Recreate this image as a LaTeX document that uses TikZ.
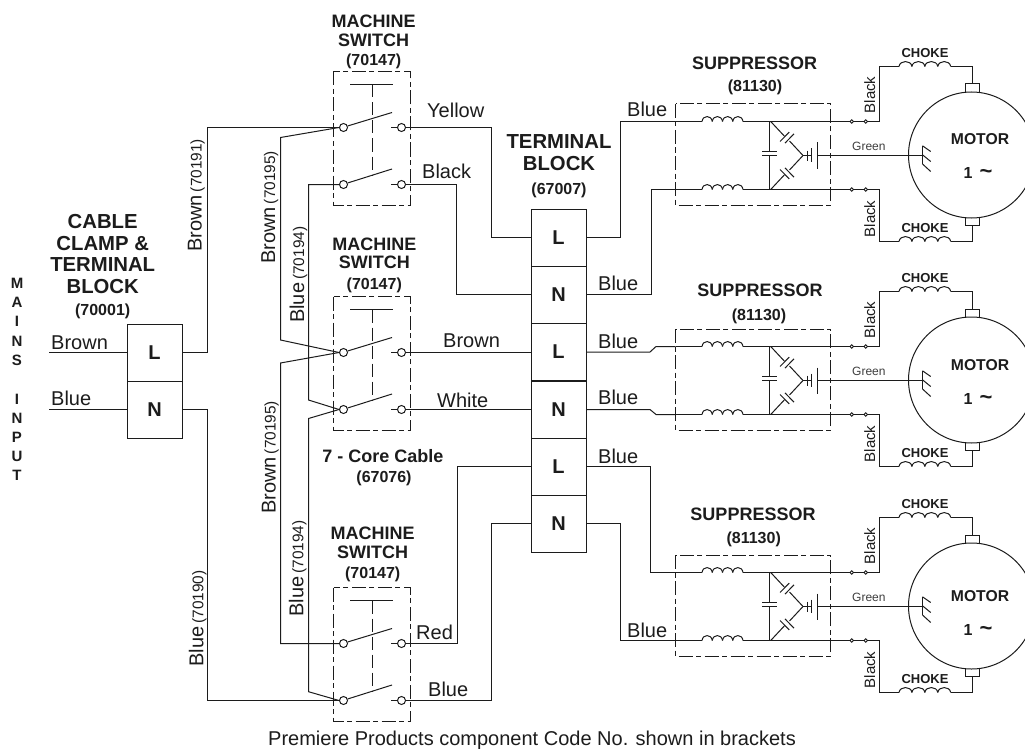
\documentclass[tikz,border=0pt]{standalone}
\usepackage{fontspec}
\setmainfont{Liberation Sans}
\usetikzlibrary{calc}
\newcommand{\fsz}[1]{\fontsize{#1}{#1}\selectfont}
\definecolor{ink}{HTML}{1C1C1C}
\tikzset{
  wire/.style={draw=ink,line width=1pt,line join=miter},
  dashbox/.style={draw=ink,line width=1pt,dash pattern=on 14pt off 3.5pt on 5pt off 3.5pt},
  dashv/.style={draw=ink,line width=1pt,dash pattern=on 13pt off 5pt},
  lab/.style={inner sep=0pt,anchor=base west,text=ink,font=\fsz{20}},
  vlab/.style={lab,rotate=90},
  ttl/.style={inner sep=0pt,anchor=base,text=ink,font=\fsz{18}\bfseries},
  ttlb/.style={inner sep=0pt,anchor=base,text=ink,font=\fsz{20.3}\bfseries},
  code/.style={inner sep=0pt,anchor=base,text=ink,font=\fsz{16}\bfseries},
  mains/.style={inner sep=0pt,anchor=base,text=ink,font=\fsz{15}\bfseries},
  cell/.style={draw=ink,line width=0.9pt,minimum width=55pt,minimum height=57pt,inner sep=0pt,font=\fsz{20}\bfseries,text=ink},
  contact/.style={circle,draw=ink,line width=1pt,fill=white,minimum size=8pt,inner sep=0pt},
  joint/.style={circle,draw=ink,line width=0.9pt,fill=white,minimum size=3.4pt,inner sep=0pt},
  pics/coil/.style={code={
    \pgfmathsetmacro{\cstep}{#1/4}
    \foreach \i in {0,1,2,3}{
      \draw[wire] (\i*\cstep,0) .. controls (\i*\cstep+0.8,-6.6) and (\i*\cstep+\cstep-0.8,-6.6) .. (\i*\cstep+\cstep,0);
    }}},
  pics/switchunit/.style={code={
    \draw[dashbox] (333.5,-56) rectangle (410.5,78);
    \draw[wire] (350,-43) -- (393,-43);
    \draw[dashv] (372.5,-43) -- (372.5,48);
    \node[contact] (a) at (343.5,0) {};
    \node[contact] (b) at (401.5,0) {};
    \node[contact] (c) at (343.5,57) {};
    \node[contact] (d) at (401.5,57) {};
    \draw[wire] (a.20) -- (392,-15);
    \draw[wire] (c.20) -- (392,41.5);
    \draw[wire] (391,0) -- (b.west);
    \draw[wire] (391,57) -- (d.west);
  }},
  pics/motorunit/.style={code={
    \draw[dashbox] (675.5,-51.5) rectangle (830.5,49.5);
    \coordinate (top) at (675.5,-34);
    \coordinate (bot) at (675.5,34);
    \draw[wire] (top) -- (702,-34);
    \draw[wire] (bot) -- (702,34);
    \pic at (702,-34) {coil=41};
    \pic at (702,34) {coil=41};
    \node[joint] (jt) at (851.7,-34) {};
    \node[joint] (jb) at (851.7,34) {};
    \node[joint] (kt) at (865.7,-34) {};
    \node[joint] (kb) at (865.7,34) {};
    \draw[wire] (743,-34) -- (jt.west);
    \draw[wire] (743,34) -- (jb.west);
    \draw[draw=ink,line width=1.6pt] (jt.east) -- (kt.west);
    \draw[draw=ink,line width=1.6pt] (jb.east) -- (kb.west);
    \draw[wire] (769.5,-34) -- (769.5,-4);
    \draw[wire] (769.5,0) -- (769.5,34);
    \draw[wire] (762,-4) -- (776.7,-4);
    \draw[wire] (762,0) -- (776.7,0);
    \draw[wire] (770.7,-34) -- (784.7,-19);
    \draw[wire] (789.5,-14.5) -- (803,0);
    \draw[wire] (780,-14) -- (789.3,-23.4);
    \draw[wire] (785,-12.4) -- (794,-21.7);
    \draw[wire] (770.7,34) -- (784.7,19);
    \draw[wire] (789.5,14.5) -- (803,0);
    \draw[wire] (780,14) -- (789.3,23.4);
    \draw[wire] (785,12.4) -- (794,21.7);
    \draw[wire] (803,0) -- (811.5,0);
    \draw[wire] (807.5,-5) -- (807.5,5);
    \draw[wire] (811.5,-7) -- (811.5,6);
    \draw[wire] (817.5,-13) -- (817.5,13);
    \draw[wire] (817.5,0) -- (922.5,0);
    \node[inner sep=0pt,anchor=base west,text=ink!85,font=\fsz{12}] (gr) at (852,-4.7) {Green};
    \draw[wire] (971.5,-0.5) circle[radius=63];
    \draw[wire] (922.5,-9.7) -- (922.5,8.5);
    \draw[wire] (922.5,-9.7) -- (930.7,-4);
    \draw[wire] (922.5,-0.7) -- (930.7,6);
    \draw[wire] (922.5,8.5) -- (930.7,16);
    \draw[wire] (965,-63.3) -- (965,-71.5) -- (979,-71.5) -- (979,-63.3);
    \draw[wire] (965,62) -- (965,70) -- (979,70) -- (979,62);
    \draw[wire] (972,-71.5) -- (972,-89) -- (950.7,-89);
    \pic at (899,-89) {coil=51.7};
    \draw[wire] (899,-89) -- (879.5,-89) -- (879.5,-34) -- (kt.east);
    \draw[wire] (972,70) -- (972,86) -- (950.7,86);
    \pic at (899,86) {coil=51.7};
    \draw[wire] (899,86) -- (879.5,86) -- (879.5,34) -- (kb.east);
    \node[inner sep=0pt,anchor=base,text=ink,font=\fsz{13}\bfseries] (ch1) at (925,-97.7) {CHOKE};
    \node[inner sep=0pt,anchor=base,text=ink,font=\fsz{13}\bfseries] (ch2) at (925,77.3) {CHOKE};
    \node[inner sep=0pt,anchor=base west,rotate=90,text=ink,font=\fsz{15}] (bk1) at (875,-42) {Black};
    \node[inner sep=0pt,anchor=base west,rotate=90,text=ink,font=\fsz{15}] (bk2) at (875,82) {Black};
  }}
}
\begin{document}
\begin{tikzpicture}[x=1pt,y=-1pt]
\clip (0,0) rectangle (1025,749);
\fill[white] (0,0) rectangle (1025,749);

% terminal blocks
\node[cell] (cb1) at (154.5,352.5) {L};
\node[cell] (cb2) at (154.5,409.5) {N};
\node[cell] (tb1) at (558.5,237.5) {L};
\node[cell] (tb2) at (558.5,294.5) {N};
\node[cell] (tb3) at (558.5,352) {L};
\node[cell] (tb4) at (558.5,409.5) {N};
\node[cell] (tb5) at (558.5,466.5) {L};
\node[cell] (tb6) at (558.5,523.5) {N};

% units
\pic (sw1) at (0,127.5) {switchunit};
\pic (sw2) at (0,352.5) {switchunit};
\pic (sw3) at (0,643.5) {switchunit};
\pic (u1) at (0,155.5) {motorunit};
\pic (u2) at (0,380.5) {motorunit};
\pic (u3) at (0,606.5) {motorunit};

% mains input
\coordinate (inl) at (49,352.5);
\coordinate (inn) at (49,409.5);
\draw[wire] (inl) -- (cb1.west);
\draw[wire] (inn) -- (cb2.west);

% feeds to the switches
\draw[wire] (cb1.east) -- (207.5,352.5) |- (sw1a.west);
\draw[wire] (cb2.east) -- (207.5,409.5) |- (sw3c.west);
\draw[wire] (sw1a.west) -- (280.5,137.5) -- (280.5,340) -- (sw2a.west);
\draw[wire] (sw2a.west) -- (280.5,363) -- (280.5,643.5) -- (sw3a.west);
\draw[wire] (sw1c.west) -- (308.5,184.5) -- (308.5,400) -- (sw2c.west);
\draw[wire] (sw2c.west) -- (308.5,418.5) -- (308.5,691.7) -- (sw3c.west);

% switches to terminal block
\draw[wire] (sw1b.east) -- (491.5,127.5) |- (tb1.west);
\draw[wire] (sw1d.east) -- (456.5,184.5) |- (tb2.west);
\draw[wire] (sw2b.east) -- (sw2b.east -| tb3.west);
\draw[wire] (sw2d.east) -- (sw2d.east -| tb4.west);
\draw[wire] (sw3b.east) -- (457.5,643.5) |- (tb5.west);
\draw[wire] (sw3d.east) -- (491.5,700.5) |- (tb6.west);

% terminal block to suppressors
\draw[wire] (tb1.east) -- (620.5,237.5) |- (u1top);
\draw[wire] (tb2.east) -- (651.5,294.5) |- (u1bot);
\draw[wire] (tb3.east) -- (650,352) -- (656,346.5) -- (u2top);
\draw[wire] (tb4.east) -- (650,409.5) -- (656,414.5) -- (u2bot);
\draw[wire] (tb5.east) -- (650.5,466.5) |- (u3top);
\draw[wire] (tb6.east) -- (620.5,523.5) |- (u3bot);

% mains letters
\foreach \ch/\yy/\nn in {M/288/a,A/307/b,I/326.5/c,N/346/d,S/365.5/e,I/404/f,N/423/g,P/442/h,U/461/i,T/480/j}{
  \node[mains] (mi\nn) at (17,\yy) {\ch};
}

% titles
\node[ttlb] (t1) at (102.7,228) {CABLE};
\node[ttlb] (t2) at (102.7,250) {CLAMP \&};
\node[ttlb] (t3) at (102.7,271.7) {TERMINAL};
\node[ttlb] (t4) at (102.7,293) {BLOCK};
\node[code] (t5) at (102.7,315.7) {(70001)};

\node[ttl] (m1) at (373.7,27.7) {MACHINE};
\node[ttl] (m2) at (373.7,46.7) {SWITCH};
\node[code] (m3) at (373.7,66) {(70147)};
\node[ttl] (m4) at (374.3,250) {MACHINE};
\node[ttl] (m5) at (374.3,268.3) {SWITCH};
\node[code] (m6) at (374.3,289.3) {(70147)};
\node[ttl] (m7) at (372.7,539.3) {MACHINE};
\node[ttl] (m8) at (372.7,558.3) {SWITCH};
\node[code] (m9) at (372.7,578.3) {(70147)};

\node[ttlb] (tb7) at (559,148) {TERMINAL};
\node[ttlb] (tb8) at (559,170) {BLOCK};
\node[code] (tb9) at (559,194.5) {(67007)};

\node[inner sep=0pt,anchor=base,text=ink,font=\fsz{18}\bfseries] (cc1) at (383,462) {7 - Core Cable};
\node[code] (cc2) at (384,482) {(67076)};

\node[ttl] (s1) at (754.7,70) {SUPPRESSOR};
\node[code] (s2) at (755,92) {(81130)};
\node[ttl] (s3) at (760,296.7) {SUPPRESSOR};
\node[code] (s4) at (759,320.7) {(81130)};
\node[ttl] (s5) at (753,520.7) {SUPPRESSOR};
\node[code] (s6) at (753.7,543) {(81130)};

\foreach \yy/\zz/\nn in {144/178/a,370/404/b,601/635/c}{
  \node[inner sep=0pt,anchor=base,text=ink,font=\fsz{15.7}\bfseries] (mo\nn) at (980,\yy) {MOTOR};
  \node[inner sep=0pt,anchor=base west,text=ink,font=\fsz{16}\bfseries] (on\nn) at (963.5,\zz) {1\hspace{7pt}{\fsz{22}\textasciitilde}};
}

% wire labels
\node[lab] (l1) at (51,349) {Brown};
\node[lab] (l2) at (51,405.7) {Blue};
\node[lab] (l3) at (427,118) {Yellow};
\node[lab] (l4) at (422,178) {Black};
\node[lab] (l5) at (443,347) {Brown};
\node[lab] (l6) at (437,407) {White};
\node[lab] (l7) at (416,639) {Red};
\node[lab] (l8) at (428,696) {Blue};
\node[lab] (l9) at (627,117) {Blue};
\node[lab] (l10) at (598,290) {Blue};
\node[lab] (l11) at (598,348) {Blue};
\node[lab] (l12) at (598,404) {Blue};
\node[lab] (l13) at (598,463) {Blue};
\node[lab] (l14) at (627,637) {Blue};

\node[vlab] (v1) at (201.7,252) {Brown\hspace{3pt}{\fsz{15.4}(70191)}};
\node[vlab] (v2) at (275,264) {Brown\hspace{3pt}{\fsz{15.4}(70195)}};
\node[vlab] (v3) at (304,323) {Blue\hspace{3pt}{\fsz{15.4}(70194)}};
\node[vlab] (v4) at (275.7,514) {Brown\hspace{3pt}{\fsz{15.4}(70195)}};
\node[vlab] (v5) at (303.3,616.7) {Blue\hspace{3pt}{\fsz{15.4}(70194)}};
\node[vlab] (v6) at (203.3,666.7) {Blue\hspace{3pt}{\fsz{15.4}(70190)}};

\node[inner sep=0pt,anchor=base west,text=ink,font=\fsz{20}] (cap) at (268,745) {Premiere Products component Code No. shown in brackets};
\end{tikzpicture}
\end{document}
